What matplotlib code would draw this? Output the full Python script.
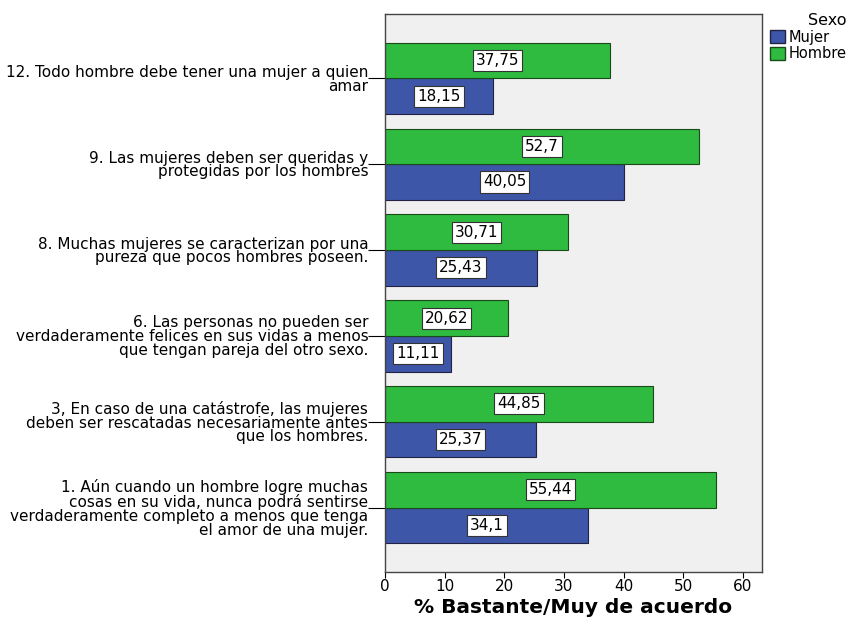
import matplotlib.pyplot as plt
import numpy as np
from matplotlib.patches import Patch

# Items, bottom to top
items = [
    "1. Aún cuando un hombre logre muchas\ncosas en su vida, nunca podrá sentirse\nverdaderamente completo a menos que tenga\nel amor de una mujer.",
    "3, En caso de una catástrofe, las mujeres\ndeben ser rescatadas necesariamente antes\nque los hombres.",
    "6. Las personas no pueden ser\nverdaderamente felices en sus vidas a menos\nque tengan pareja del otro sexo.",
    "8. Muchas mujeres se caracterizan por una\npureza que pocos hombres poseen.",
    "9. Las mujeres deben ser queridas y\nprotegidas por los hombres",
    "12. Todo hombre debe tener una mujer a quien\namar",
]
mujer = [34.1, 25.37, 11.11, 25.43, 40.05, 18.15]
hombre = [55.44, 44.85, 20.62, 30.71, 52.7, 37.75]
mujer_lbl = ["34,1", "25,37", "11,11", "25,43", "40,05", "18,15"]
hombre_lbl = ["55,44", "44,85", "20,62", "30,71", "52,7", "37,75"]

blue = '#3d56a8'
green = '#2fbb3f'

fig = plt.figure(figsize=(8.47, 6.3), dpi=100)
ax = fig.add_axes([0.4545, 0.092, 0.4452, 0.886])
ax.set_facecolor('#f0f0f0')

y = np.arange(len(items))
h = 0.415
ax.barh(y - h / 2, mujer, height=h, color=blue, edgecolor='#222244', linewidth=0.8)
ax.barh(y + h / 2, hombre, height=h, color=green, edgecolor='#1a4a1a', linewidth=0.8)

box = dict(boxstyle='square,pad=0.2', facecolor='white', edgecolor='#333333', linewidth=0.8)
for i in range(len(items)):
    ax.text(mujer[i] / 2, y[i] - h / 2, mujer_lbl[i], ha='center', va='center',
            fontsize=11, bbox=box)
    ax.text(hombre[i] / 2, y[i] + h / 2, hombre_lbl[i], ha='center', va='center',
            fontsize=11, bbox=box)

ax.set_xlim(0, 63.2)
ax.set_ylim(-0.75, len(items) - 0.25)
ax.set_xticks(range(0, 61, 10))
ax.set_yticks(y)
ax.set_yticklabels(items, fontsize=11, linespacing=0.9)
ax.tick_params(axis='y', length=12, width=0.8, pad=0)
ax.tick_params(axis='x', length=4, width=0.8, labelsize=11, pad=1)
for s in ax.spines.values():
    s.set_color('#444444')
    s.set_linewidth(1.0)
ax.set_xlabel('% Bastante/Muy de acuerdo', fontsize=14.5, fontweight='bold', labelpad=3)

handles = [Patch(facecolor=blue, edgecolor='#222244', label='Mujer'),
           Patch(facecolor=green, edgecolor='#1a4a1a', label='Hombre')]
leg = fig.legend(handles=handles, title='Sexo', loc='upper left',
                 bbox_to_anchor=(0.897, 0.995), frameon=False, fontsize=10.5,
                 title_fontsize=11.5, handlelength=1.0, handleheight=1.0,
                 handletextpad=0.3, labelspacing=0.1, borderpad=0.2)
leg._legend_box.align = 'right'

fig.savefig('out.png', dpi=100)
